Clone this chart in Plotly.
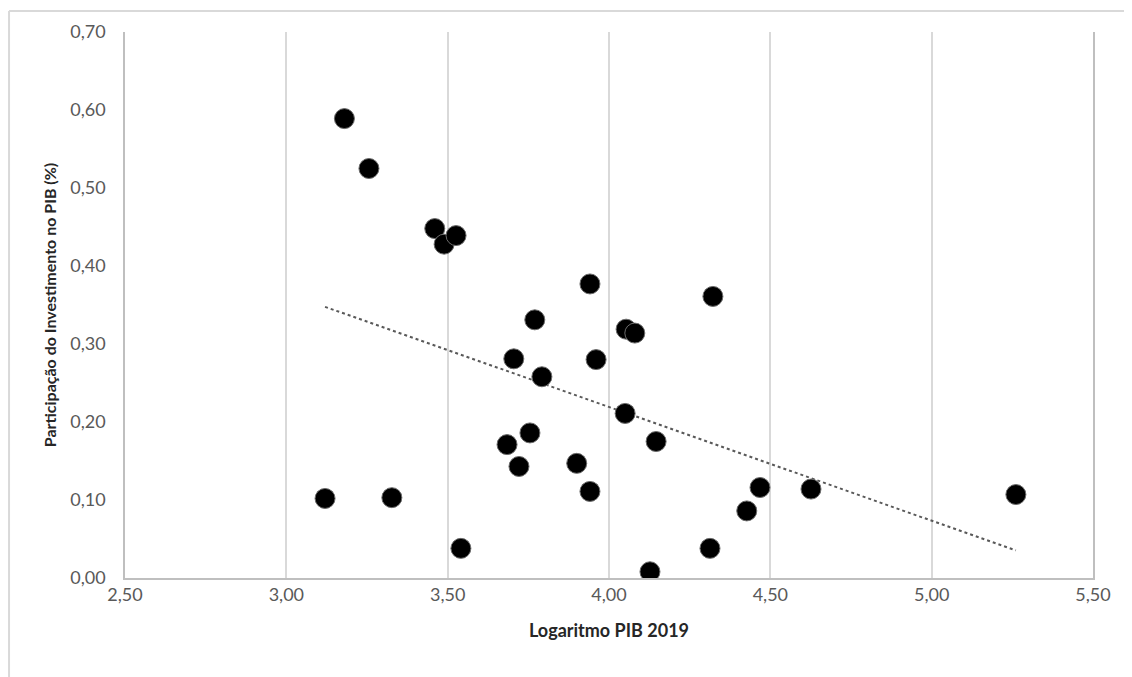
import numpy as np
import plotly.graph_objects as go

log_pib = [3.12, 3.18, 3.256, 3.327, 3.46, 3.489, 3.526, 3.541, 3.684, 3.705,
           3.721, 3.755, 3.77, 3.792, 3.90, 3.941, 3.941, 3.96, 4.05, 4.053,
           4.08, 4.127, 4.146, 4.313, 4.322, 4.427, 4.468, 4.626, 5.261]
invest_share = [0.102, 0.589, 0.525, 0.103, 0.448, 0.428, 0.439, 0.038, 0.171, 0.281,
                0.143, 0.186, 0.331, 0.258, 0.147, 0.377, 0.111, 0.280, 0.211, 0.319,
                0.314, 0.008, 0.175, 0.038, 0.361, 0.086, 0.116, 0.114, 0.107]

x_ticks = [2.5, 3.0, 3.5, 4.0, 4.5, 5.0, 5.5]
y_ticks = [0.0, 0.1, 0.2, 0.3, 0.4, 0.5, 0.6, 0.7]

x_arr = np.array(log_pib)
y_arr = np.array(invest_share)
slope, intercept = np.polyfit(x_arr, y_arr, 1)
trend_x = np.array([x_arr.min(), x_arr.max()])
trend_y = slope * trend_x + intercept

fig = go.Figure()
fig.add_trace(go.Scatter(
    x=trend_x, y=trend_y, mode="lines",
    line=dict(color="#595959", width=2, dash="dot"),
    hoverinfo="skip", showlegend=False))
fig.add_trace(go.Scatter(
    x=log_pib, y=invest_share, mode="markers",
    marker=dict(size=20, color="black", line=dict(color="#6b6b6b", width=1)),
    showlegend=False))

border = dict(color="#d9d9d9", width=2)
font_family = "Lato, 'Open Sans', sans-serif"
fig.update_layout(
    width=1124, height=669,
    margin=dict(l=117, r=39, t=22, b=99),
    paper_bgcolor="white", plot_bgcolor="white",
    separators=",.",
    font=dict(family=font_family, color="#595959", size=18),
    shapes=[
        dict(type="line", xref="paper", yref="paper",
             x0=-0.1198, x1=1.1, y0=1.0383, y1=1.0383, line=border, layer="below"),
        dict(type="line", xref="paper", yref="paper",
             x0=-0.1198, x1=-0.1198, y0=-0.2, y1=1.0383, line=border, layer="below"),
    ],
)
fig.update_xaxes(
    range=[2.5, 5.5], tickvals=x_ticks, tickformat=".2f",
    showgrid=True, gridcolor="#d9d9d9", gridwidth=1.5,
    showline=True, linecolor="#bfbfbf", linewidth=1.5,
    zeroline=False, ticks="", ticklen=0, ticklabelstandoff=0,
    tickfont=dict(size=18, color="#595959"),
    title=dict(text="<b>Logaritmo PIB 2019</b>", font=dict(size=18, color="#262626"), standoff=20),
)
fig.update_yaxes(
    range=[0, 0.7], tickvals=y_ticks, tickformat=".2f",
    showgrid=False, zeroline=False,
    showline=True, linecolor="#bfbfbf", linewidth=1.5, mirror=True,
    ticks="", ticklen=0, ticklabelstandoff=14,
    tickfont=dict(size=18, color="#595959"),
    title=dict(text="<b>Participação do Investimento no PIB (%)</b>", font=dict(size=16, color="#262626"), standoff=10),
)

fig.write_html("out.html")
